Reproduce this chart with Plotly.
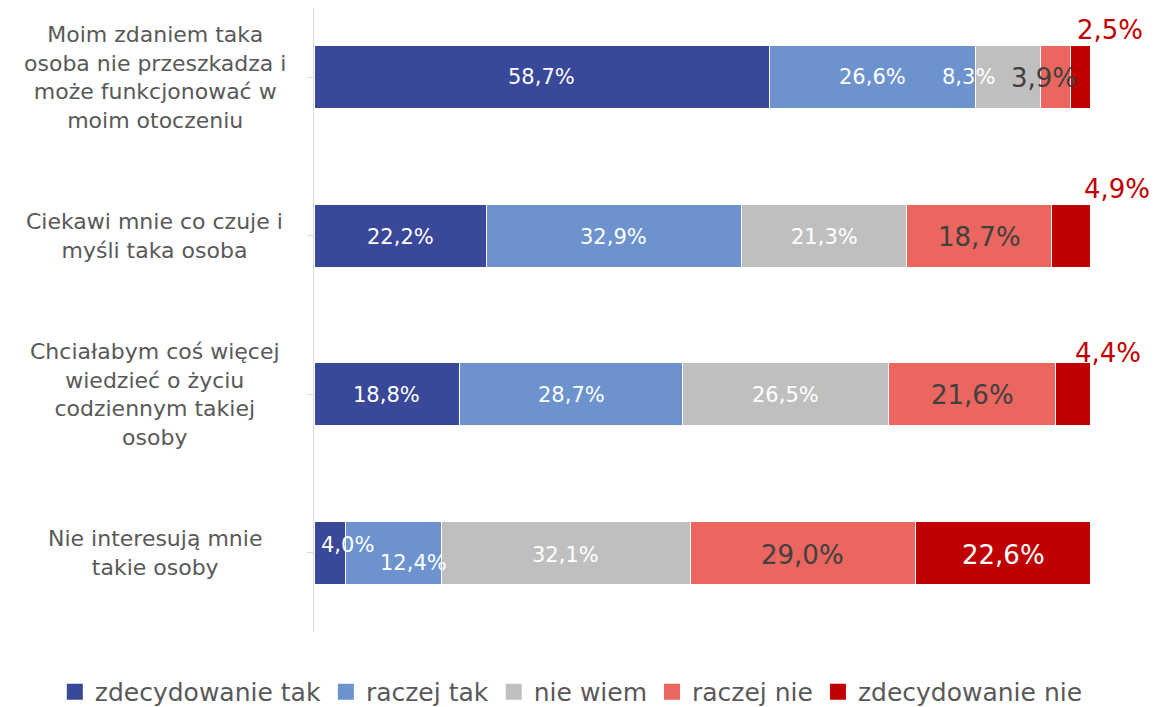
import plotly.graph_objects as go

categories = [
    "Moim zdaniem taka<br>osoba nie przeszkadza i<br>może funkcjonować w<br>moim otoczeniu",
    "Ciekawi mnie co czuje i<br>myśli taka osoba",
    "Chciałabym coś więcej<br>wiedzieć o życiu<br>codziennym takiej<br>osoby",
    "Nie interesują mnie<br>takie osoby",
]
series_names = ["zdecydowanie tak", "raczej tak", "nie wiem", "raczej nie", "zdecydowanie nie"]
zdecydowanie_tak = [58.7, 22.2, 18.8, 4.0]
raczej_tak = [26.6, 32.9, 28.7, 12.4]
nie_wiem = [8.3, 21.3, 26.5, 32.1]
raczej_nie = [3.9, 18.7, 21.6, 29.0]
zdecydowanie_nie = [2.5, 4.9, 4.4, 22.6]
series_values = [zdecydowanie_tak, raczej_tak, nie_wiem, raczej_nie, zdecydowanie_nie]

colors = ["#3A4899", "#6C93CE", "#BFBFBF", "#EA665E", "#C00000"]
FONT = "DejaVu Sans"

# label style per (series, row): (color, size, xshift, yshift)
WHITE, DARK, RED = "#FFFFFF", "#404040", "#C00000"
SMALL, BIG = 21, 26
label_style = {
    (0, 0): (WHITE, SMALL, 0, 0), (1, 0): (WHITE, SMALL, 0, 0), (2, 0): (WHITE, SMALL, -40, 0),
    (3, 0): (DARK, BIG, -11, -1), (4, 0): (RED, BIG, 30, 47),
    (0, 1): (WHITE, SMALL, 0, -1), (1, 1): (WHITE, SMALL, 0, -1), (2, 1): (WHITE, SMALL, 0, -1),
    (3, 1): (DARK, BIG, 0, -1), (4, 1): (RED, BIG, 46, 47),
    (0, 2): (WHITE, SMALL, 0, -1), (1, 2): (WHITE, SMALL, 0, -1), (2, 2): (WHITE, SMALL, 0, -1),
    (3, 2): (DARK, BIG, 0, -1), (4, 2): (RED, BIG, 35, 41),
    (0, 3): (WHITE, SMALL, 18, 8), (1, 3): (WHITE, SMALL, 20, -10), (2, 3): (WHITE, SMALL, 0, -2),
    (3, 3): (DARK, BIG, 0, -2), (4, 3): (WHITE, BIG, 0, -2),
}

fig = go.Figure()
for name, vals, col in zip(series_names, series_values, colors):
    fig.add_trace(go.Bar(
        y=list(range(len(categories))), x=vals, orientation="h", name=name,
        marker=dict(color=col, line=dict(color="#FFFFFF", width=1)),
        showlegend=False, hoverinfo="x+name",
    ))
    fig.add_trace(go.Scatter(
        x=[None], y=[None], mode="markers", name=name,
        marker=dict(symbol="square", size=17, color=col),
    ))

annotations = []
for r in range(len(categories)):
    cum = 0.0
    for s, vals in enumerate(series_values):
        v = vals[r]
        center = cum + v / 2
        cum += v
        col, size, xs, ys = label_style[(s, r)]
        annotations.append(dict(
            x=center, y=r, xref="x", yref="y", showarrow=False,
            text=f"{v:.1f}".replace(".", ",") + "%",
            font=dict(family=FONT, size=size, color=col),
            xshift=xs, yshift=ys, xanchor="center", yanchor="middle",
        ))
    annotations.append(dict(
        x=-0.205, y=r, xref="paper", yref="y", showarrow=False,
        text=categories[r], align="center", xanchor="center", yanchor="middle",
        font=dict(family=FONT, size=22, color="#595959"),
    ))

fig.update_layout(
    barmode="stack", bargap=0.6,
    width=1150, height=699,
    margin=dict(l=306, r=68, t=0, b=75, autoexpand=False),
    paper_bgcolor="white", plot_bgcolor="white",
    font=dict(family=FONT, color="#595959"),
    xaxis=dict(range=[0, 100], visible=False, fixedrange=True, automargin=False),
    yaxis=dict(
        range=[3.5, -0.437], tickmode="array", tickvals=[0, 1, 2, 3], ticktext=["", "", "", ""],
        showline=True, linecolor="#D9D9D9", linewidth=1, showgrid=False, zeroline=False,
        ticks="outside", ticklen=6, tickcolor="#D9D9D9", tickson="boundaries", automargin=False,
    ),
    legend=dict(
        orientation="h", x=-0.334, xanchor="left", y=-0.096, yanchor="middle",
        font=dict(family=FONT, size=25, color="#595959"),
        itemwidth=30, tracegroupgap=0, traceorder="normal",
    ),
    annotations=annotations,
)

fig.write_html("out.html")
